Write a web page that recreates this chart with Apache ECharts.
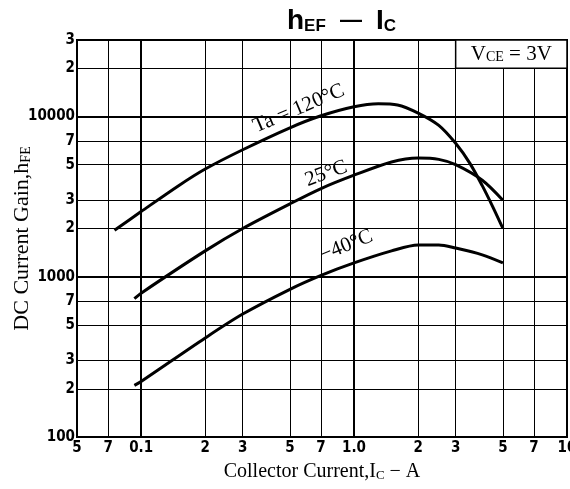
<!DOCTYPE html>
<html><head><meta charset="utf-8">
<script src="https://cdn.jsdelivr.net/npm/echarts@6/dist/echarts.min.js"></script>
<style>html,body{margin:0;padding:0;background:#fff}#c{width:570px;height:489px}</style>
</head><body><div id="c"></div>
<script>
// ---- data ----
const xTickValues = [0.05, 0.07, 0.1, 0.2, 0.3, 0.5, 0.7, 1, 2, 3, 5, 7, 10];
const xTickLabels = ['5', '7', '0.1', '2', '3', '5', '7', '1.0', '2', '3', '5', '7', '10'];
const yTickValues = [100, 200, 300, 500, 700, 1000, 2000, 3000, 5000, 7000, 10000, 20000, 30000];
const yTickLabels = ['100', '2', '3', '5', '7', '1000', '2', '3', '5', '7', '10000', '2', '3'];
const xDecades = [0.1, 1];
const yDecades = [1000, 10000];

const ic120 = [0.075, 0.1, 0.15, 0.2, 0.3, 0.5, 0.7, 1.0, 1.3, 1.6, 2, 2.5, 3, 3.5, 4, 4.5, 5];
const hfe120 = [1950, 2550, 3700, 4700, 6200, 8500, 10100, 11500, 12000, 11800, 10500, 8800, 6800, 5100, 3700, 2700, 2000];
const ic25 = [0.093, 0.1, 0.2, 0.3, 0.5, 0.7, 1.0, 1.5, 2, 2.5, 3, 4, 5];
const hfe25 = [730, 790, 1450, 2000, 2850, 3550, 4300, 5200, 5500, 5400, 5000, 4000, 3000];
const icM40 = [0.093, 0.1, 0.2, 0.3, 0.5, 0.7, 1.0, 1.5, 2, 2.5, 3, 4, 5];
const hfeM40 = [210, 222, 415, 585, 835, 1020, 1220, 1450, 1580, 1580, 1510, 1370, 1220];

const curveLabels = ['Ta = 120°C', '25°C', '−40°C'];
const curveLabelPos = [[0.55, 11200], [0.74, 4400], [0.92, 1560]];
const vceBox = [[3, 20000], [10, 30000]];

// ---- chart ----
const zip = (xs, ys) => xs.map((x, i) => [x, ys[i]]);
function lookup(vals, labels, v) {
  let best = 0, bd = Infinity;
  vals.forEach((t, i) => { const d = Math.abs(Math.log10(t) - Math.log10(v)); if (d < bd) { bd = d; best = i; } });
  return labels[best];
}
const tickFont = "'Liberation Sans Narrow','DejaVu Sans Condensed',sans-serif";
const serif = "'Liberation Serif','DejaVu Serif',serif";
const labelStyle = (txt, rot) => ({
  show: true, position: 'inside', formatter: txt, rotate: rot,
  fontFamily: serif, fontSize: 21, color: '#000'
});
function curve(xs, ys, idx) {
  return {
    type: 'line', data: zip(xs, ys), smooth: 0.3, showSymbol: false, symbol: 'none',
    lineStyle: { color: '#000', width: 3 }, z: 5,
    markPoint: {
      symbol: 'circle', symbolSize: 1, itemStyle: { color: 'rgba(0,0,0,0)' }, silent: true,
      data: [{ coord: curveLabelPos[idx], label: labelStyle(curveLabels[idx], [23, 20, 22][idx]) }]
    }
  };
}
const s0 = curve(ic120, hfe120, 0);
s0.markLine = {
  silent: true, symbol: 'none', label: { show: false },
  lineStyle: { color: '#000', width: 2, type: 'solid' },
  data: [...xDecades.map(v => ({ xAxis: v })), ...yDecades.map(v => ({ yAxis: v }))]
};
s0.markArea = {
  silent: true,
  itemStyle: { color: '#fff', borderColor: '#000', borderWidth: 1.5 },
  label: {
    show: true, position: 'inside',
    formatter: '{v|V}{s|CE}{v| = 3V}',
    rich: {
      v: { fontFamily: serif, fontSize: 21, color: '#000' },
      s: { fontFamily: serif, fontSize: 14, color: '#000', verticalAlign: 'bottom', padding: [6, 0, 0, 0] }
    }
  },
  data: [[{ coord: vceBox[0] }, { coord: vceBox[1] }]]
};

const chart = echarts.init(document.getElementById('c'), null, { renderer: 'canvas' });
chart.setOption({
  animation: false,
  backgroundColor: '#fff',
  title: {
    text: '{h|h}{s|EF}{d| — }{h|I}{s|C}',
    left: 282, top: 2,
    textStyle: {
      rich: {
        h: { fontFamily: "'Liberation Sans','DejaVu Sans',sans-serif", fontSize: 28, color: '#000' },
        s: { fontFamily: "'Liberation Sans','DejaVu Sans',sans-serif", fontSize: 17, color: '#000', verticalAlign: 'bottom', padding: [8, 0, 0, 0] },
        d: { fontFamily: "'Liberation Sans','DejaVu Sans',sans-serif", fontSize: 22, color: '#000', padding: [0, 8, 0, 8] }
      }
    }
  },
  grid: { left: 77, right: 3, top: 40, bottom: 52, show: true, borderColor: '#000', borderWidth: 2, containLabel: false, outerBoundsMode: 'none' },
  xAxis: {
    type: 'log', min: 0.05, max: 10,
    name: '{a|Collector Current,I}{s|C}{a| − A}', nameLocation: 'middle', nameGap: 25, nameMoveOverlap: false,
    nameTextStyle: {
      rich: {
        a: { fontFamily: serif, fontSize: 20, color: '#000' },
        s: { fontFamily: serif, fontSize: 13, color: '#000', verticalAlign: 'bottom', padding: [7, 0, 0, 0] }
      }
    },
    axisLine: { show: true, lineStyle: { color: '#000', width: 2 } },
    axisTick: { show: false, customValues: xTickValues },
    axisLabel: {
      customValues: xTickValues, margin: 4, color: '#000', fontFamily: tickFont, fontWeight: 'bold', fontSize: 15,
      formatter: v => lookup(xTickValues, xTickLabels, v)
    },
    splitLine: { show: true, lineStyle: { color: '#000', width: 1 } },
    minorSplitLine: { show: false }
  },
  yAxis: {
    type: 'log', min: 100, max: 30000,
    name: '{a|DC Current Gain,h}{s|FE}', nameLocation: 'middle', nameGap: 44, nameMoveOverlap: false,
    nameTextStyle: {
      rich: {
        a: { fontFamily: serif, fontSize: 22, color: '#000' },
        s: { fontFamily: serif, fontSize: 14, color: '#000', verticalAlign: 'bottom', padding: [7, 0, 0, 0] }
      }
    },
    axisLine: { show: true, lineStyle: { color: '#000', width: 2 } },
    axisTick: { show: false, customValues: yTickValues },
    axisLabel: {
      customValues: yTickValues, margin: 2, color: '#000', fontFamily: tickFont, fontWeight: 'bold', fontSize: 15,
      formatter: v => lookup(yTickValues, yTickLabels, v)
    },
    splitLine: { show: true, lineStyle: { color: '#000', width: 1 } }
  },
  series: [s0, curve(ic25, hfe25, 1), curve(icM40, hfeM40, 2)]
});
</script></body></html>
